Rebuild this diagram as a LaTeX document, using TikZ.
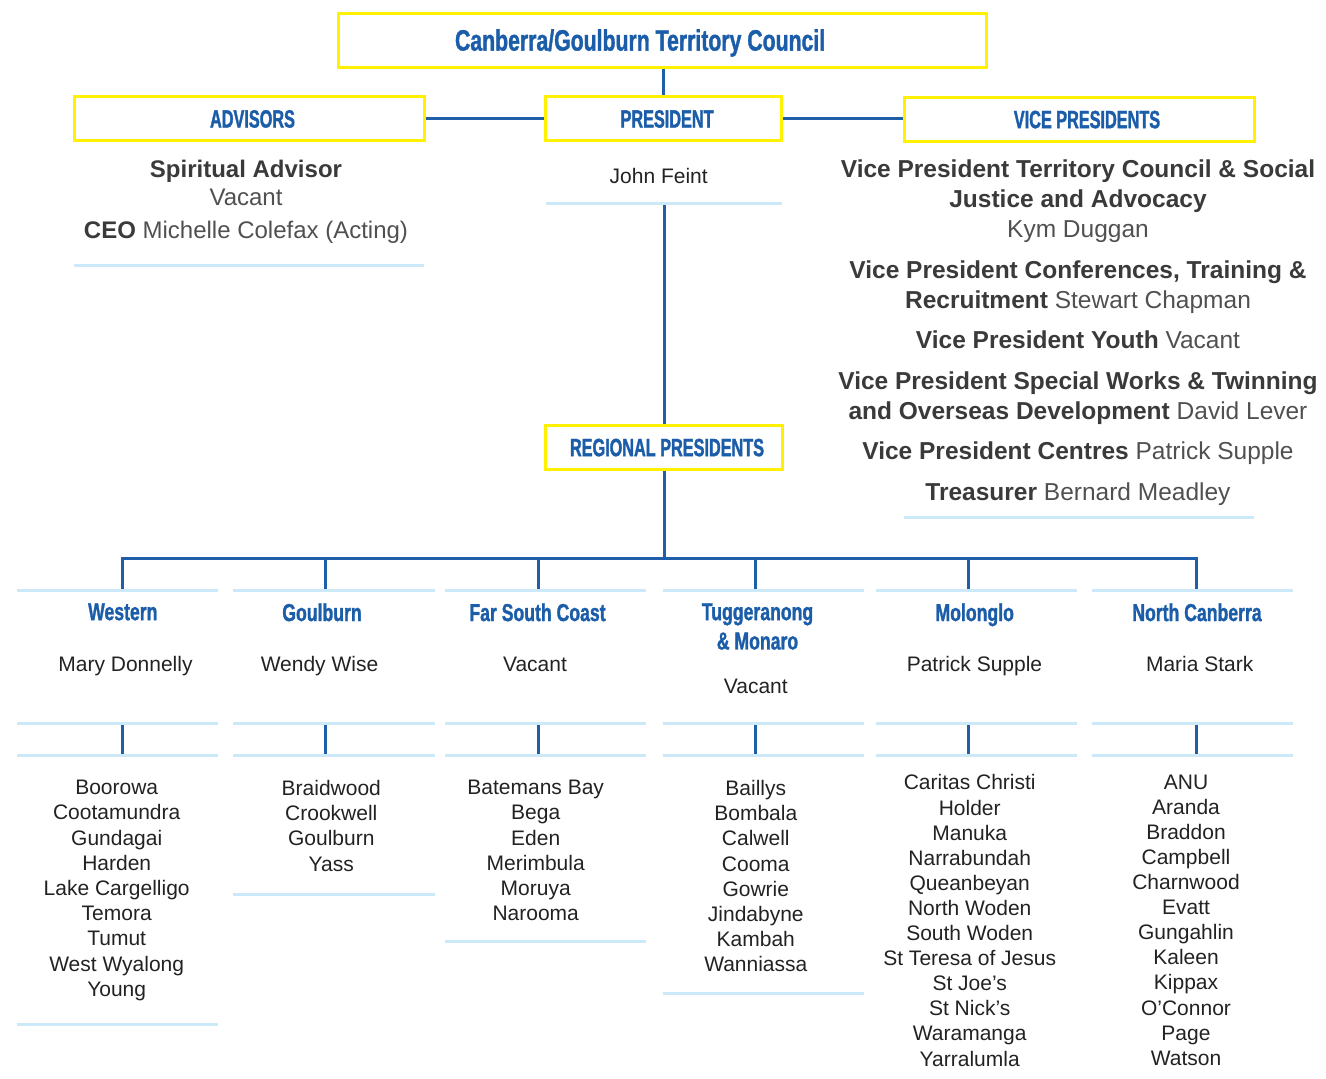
\documentclass[tikz,border=0pt]{standalone}
\usepackage{fontspec}
\setmainfont{Liberation Sans}
\newfontfamily\hfont{Liberation Sans Bold}[FakeStretch=0.72,FakeBold=1.2]
\newfontfamily\capfont{Liberation Sans Bold}[FakeStretch=0.65,FakeBold=1.4]
\definecolor{cblue}{HTML}{1B5DA8}
\definecolor{cline}{HTML}{1F5FA9}
\definecolor{cyellow}{HTML}{FFF100}
\definecolor{csep}{HTML}{CBE9F9}
\definecolor{cdark}{HTML}{3A3A3A}
\definecolor{cgrey}{HTML}{505050}
\definecolor{ctext}{HTML}{222222}
\newcommand\boldpart[1]{{\bfseries\color{cdark}#1}}
\tikzset{
  conn/.style={draw=cline, line width=3pt},
  sepline/.style={draw=csep, line width=3pt},
  ybox/.style={draw=cyellow, line width=3pt, inner sep=0pt, text=cblue,
    font=\capfont\fontsize{25}{25}\selectfont, text height=17.9pt, text depth=0pt},
  bodytext/.style={inner sep=0pt, text=cgrey, align=center, anchor=north},
  rhead/.style={inner sep=0pt, text=cblue, align=center, anchor=north,
    font=\hfont\fontsize{24.5}{29.3}\selectfont},
  rname/.style={inner sep=0pt, text=ctext, anchor=base, font=\fontsize{21}{25.2}\selectfont},
  rlist/.style={inner sep=0pt, text=ctext, align=center, anchor=north, font=\fontsize{21}{25.2}\selectfont}
}
\begin{document}
\begin{tikzpicture}[x=1pt,y=-1pt]
\useasboundingbox (0,0) rectangle (1326,1079);

% top boxes
\node[ybox, minimum width=648.3pt, minimum height=53.7pt, text height=20.8pt,
  font=\hfont\fontsize{29.5}{29.5}\selectfont] (council) at (662.6,40.2)
  {Canberra/Goulburn Territory Council\hspace*{45pt}};
\node[ybox, minimum width=236pt, minimum height=44.3pt] (president) at (663.8,118.6) {\hspace*{6.5pt}PRESIDENT};
\node[ybox, minimum width=350pt, minimum height=44pt] (advisors) at (249,118.6) {\hspace*{7pt}ADVISORS};
\node[ybox, minimum width=350pt, minimum height=43.7pt] (vp) at (1079,119.2) {\hspace*{16pt}VICE PRESIDENTS};
\node[ybox, minimum width=236.7pt, minimum height=44.3pt] (regional) at (664.3,447.2) {\hspace*{5.4pt}REGIONAL PRESIDENTS};

% connectors between top boxes
\draw[conn] (president.north |- council.south) -- (president.north);
\draw[conn] (advisors.east) -- (president.west);
\draw[conn] (president.east) -- (president.east -| vp.west);

% president name
\node[rname] (presname) at (658.7,183.3) {John Feint};
\draw[sepline] (545.8,203.3) -- (781.7,203.3);
\coordinate (pdrop) at (664.5,204.8);
\draw[conn] (pdrop) -- (pdrop |- regional.north);

% advisors text
\node[bodytext, font=\fontsize{24}{27.7}\selectfont] (advtext) at (246,159.8)
  {\boldpart{Spiritual Advisor}\\Vacant\\[5.6pt]\boldpart{CEO} Michelle Colefax (Acting)};
\draw[sepline] (74,265) -- (424,265);

% vice presidents text
\node[bodytext, font=\fontsize{24.5}{30.2}\selectfont] (vptext) at (1078,159.5)
  {\boldpart{Vice President Territory Council \& Social}\\
   \boldpart{Justice and Advocacy}\\
   Kym Duggan\\[10.2pt]
   \boldpart{Vice President Conferences, Training \&}\\
   \boldpart{Recruitment} Stewart Chapman\\[10.2pt]
   \boldpart{Vice President Youth} Vacant\\[10.2pt]
   \boldpart{Vice President Special Works \& Twinning}\\
   \boldpart{and Overseas Development} David Lever\\[10.2pt]
   \boldpart{Vice President Centres} Patrick Supple\\[10.2pt]
   \boldpart{Treasurer} Bernard Meadley};
\draw[sepline] (904,517.7) -- (1254,517.7);

% bus and drop points
\coordinate (bus) at (664.5,558.3);
\coordinate (wtop) at (122.3,588.5);  \coordinate (wmid) at (122.3,725.2);  \coordinate (wlow) at (122.3,753.5);
\coordinate (gtop) at (325,588.5);    \coordinate (gmid) at (325,725.2);    \coordinate (glow) at (325,753.5);
\coordinate (ftop) at (538.3,588.5);  \coordinate (fmid) at (538.3,725.2);  \coordinate (flow) at (538.3,753.5);
\coordinate (ttop) at (755.7,588.5);  \coordinate (tmid) at (755.7,725.2);  \coordinate (tlow) at (755.7,753.5);
\coordinate (mtop) at (968.3,588.5);  \coordinate (mmid) at (968.3,725.2);  \coordinate (mlow) at (968.3,753.5);
\coordinate (ntop) at (1196.7,588.5); \coordinate (nmid) at (1196.7,725.2); \coordinate (nlow) at (1196.7,753.5);

\draw[conn] (regional.south) -- (regional.south |- bus);
\draw[conn, line join=miter] (wtop) -- (wtop |- bus) -- (ntop |- bus) -- (ntop);
\draw[conn] (gtop |- bus) -- (gtop);
\draw[conn] (ftop |- bus) -- (ftop);
\draw[conn] (ttop |- bus) -- (ttop);
\draw[conn] (mtop |- bus) -- (mtop);
\draw[conn] (wmid) -- (wlow);
\draw[conn] (gmid) -- (glow);
\draw[conn] (fmid) -- (flow);
\draw[conn] (tmid) -- (tlow);
\draw[conn] (mmid) -- (mlow);
\draw[conn] (nmid) -- (nlow);

% column separator lines
\foreach \a/\b in {16.7/218.3, 233.3/435, 445/646, 662.7/864, 876/1077.3, 1091.7/1293.3}{
  \draw[sepline] (\a,590) -- (\b,590);
  \draw[sepline] (\a,723.7) -- (\b,723.7);
  \draw[sepline] (\a,755) -- (\b,755);
}

% regional headings
\node[rhead] (hw) at (122.8,603.1) {Western};
\node[rhead] (hg) at (322,603.1) {Goulburn};
\node[rhead] (hf) at (537.5,603.1) {Far South Coast};
\node[rhead] (ht) at (757.5,603.1) {Tuggeranong\\\& Monaro};
\node[rhead] (hm) at (974.7,603.1) {Molonglo};
\node[rhead] (hn) at (1197,603.1) {North Canberra};

% regional names
\node[rname] (nw) at (125.5,671) {Mary Donnelly};
\node[rname] (ng) at (319.5,671) {Wendy Wise};
\node[rname] (nf) at (535,671) {Vacant};
\node[rname] (nt) at (755.8,693.3) {Vacant};
\node[rname] (nm) at (974.5,671) {Patrick Supple};
\node[rname] (nn) at (1199.7,671) {Maria Stark};

% lists
\node[rlist] (lw) at (116.7,780) {Boorowa\\Cootamundra\\Gundagai\\Harden\\Lake Cargelligo\\Temora\\Tumut\\West Wyalong\\Young};
\draw[sepline] (16.7,1024.3) -- (218.3,1024.3);
\node[rlist] (lg) at (331.3,780) {Braidwood\\Crookwell\\Goulburn\\Yass};
\draw[sepline] (233.3,894.3) -- (435,894.3);
\node[rlist] (lf) at (535.7,780) {Batemans Bay\\Bega\\Eden\\Merimbula\\Moruya\\Narooma};
\draw[sepline] (445,941.7) -- (646,941.7);
\node[rlist] (lt) at (755.8,780) {Baillys\\Bombala\\Calwell\\Cooma\\Gowrie\\Jindabyne\\Kambah\\Wanniassa};
\draw[sepline] (662.7,993.3) -- (864,993.3);
\node[rlist, font=\fontsize{21}{25.1}\selectfont] (lm) at (969.7,774.5) {Caritas Christi\\Holder\\Manuka\\Narrabundah\\Queanbeyan\\North Woden\\South Woden\\St Teresa of Jesus\\St Joe’s\\St Nick’s\\Waramanga\\Yarralumla};
\node[rlist, font=\fontsize{21}{25.1}\selectfont] (ln) at (1186,774.5) {ANU\\Aranda\\Braddon\\Campbell\\Charnwood\\Evatt\\Gungahlin\\Kaleen\\Kippax\\O’Connor\\Page\\Watson};
\end{tikzpicture}
\end{document}
